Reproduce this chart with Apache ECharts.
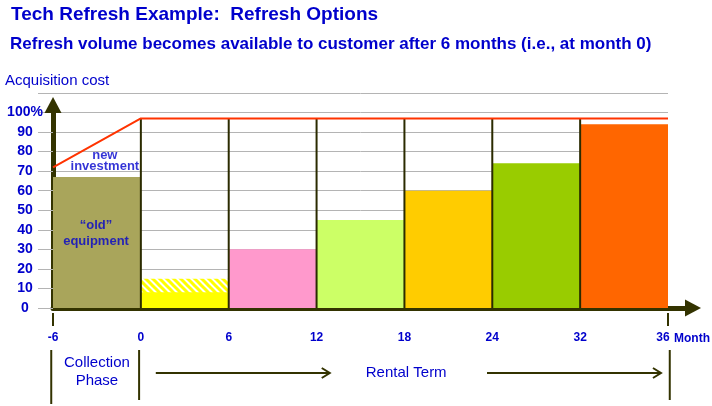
<!DOCTYPE html>
<html>
<head>
<meta charset="utf-8">
<script src="https://cdn.jsdelivr.net/npm/echarts@6/dist/echarts.min.js"></script>
</head>
<body style="margin:0; background:#fff">
<div id="chart" style="width:712px; height:406px"></div>
<script>
// tick labels under the time axis (equal spacing per period)
var monthLabels = ['-6', '0', '6', '12', '18', '24', '32', '36'];
// acquisition cost (% of full) per period
var barValues = [67, 8, 30, 45, 60, 74, 94];
var barColors = ['#A9A55B', '#FFFF00', '#FF99CC', '#CCFF66', '#FFCC00', '#99CC00', '#FF6600'];
// hatched "potential" volume on top of the month 0-6 bar
var hatchValues = [null, 15, null, null, null, null, null];
// red acquisition cost line
var costLine = [[0, 72], [1, 97], [7, 97]];
// period dividers
var dividerAt = [1, 2, 3, 4, 5, 6];
var dividerTop = 97;
var notes = [
    {text: 'new\ninvestment', x: 0.59, y: 75},
    {text: '\u201cold\u201d\nequipment', x: 0.49, y: 38}
];

var blue = '#0000CC';
var dark = '#333300';
var grey = '#B4B4B4';
var font = '"Liberation Sans", Arial, sans-serif';

// diagonal yellow stripes for the hatched part
function hatchPattern() {
    var s = 7;
    var c = document.createElement('canvas');
    c.width = s; c.height = s;
    var g = c.getContext('2d');
    g.fillStyle = '#fff';
    g.fillRect(0, 0, s, s);
    g.strokeStyle = '#FFFF00';
    g.lineWidth = 3;
    g.beginPath();
    g.moveTo(-1, -1); g.lineTo(s + 1, s + 1);
    g.moveTo(-1, s - 1); g.lineTo(1, s + 1);
    g.moveTo(s - 1, -1); g.lineTo(s + 1, 1);
    g.stroke();
    return {image: c, repeat: 'repeat'};
}

function barData(values) {
    var out = [];
    for (var i = 0; i < values.length; i++) {
        if (values[i] != null) out.push([i, values[i]]);
    }
    return out;
}

function periodRect(fillFn) {
    return function (params, api) {
        var i = api.value(0);
        var p0 = api.coord([i, api.value(1)]);
        var p1 = api.coord([i + 1, 0]);
        return {
            type: 'rect',
            shape: {x: p0[0], y: p0[1], width: p1[0] - p0[0], height: p1[1] - p0[1]},
            style: {fill: fillFn(i)}
        };
    };
}

var hatch = hatchPattern();

var chart = echarts.init(document.getElementById('chart'));

var option = {
    animation: false,
    backgroundColor: '#fff',
    textStyle: {fontFamily: font},
    title: [
        {text: 'Tech Refresh Example:  Refresh Options', left: 6, top: 0,
            textStyle: {color: blue, fontSize: 19, fontWeight: 'bold', fontFamily: font}},
        {text: 'Refresh volume becomes available to customer after 6 months (i.e., at month 0)', left: 5, top: 31,
            textStyle: {color: blue, fontSize: 17, fontWeight: 'bold', fontFamily: font}},
        {text: 'Acquisition cost', left: 0, top: 68,
            textStyle: {color: blue, fontSize: 15, fontWeight: 'normal', fontFamily: font}}
    ],
    grid: [
        {left: 53, right: 44, top: 93, bottom: 98},
        {left: 53, right: 44, top: 105, bottom: 98},
        {left: 53, right: 19, top: 93, bottom: 98}
    ],
    xAxis: [
        {
            gridIndex: 0, type: 'value', min: 0, max: 7, interval: 1,
            axisLine: {show: false}, axisTick: {show: false}, splitLine: {show: false},
            axisLabel: {
                margin: 24, color: blue, fontSize: 12, fontWeight: 'bold', fontFamily: font,
                formatter: function (v) {
                    var i = Math.round(v);
                    return i === monthLabels.length - 1 ? '{end|' + monthLabels[i] + '}' : monthLabels[i];
                },
                rich: {end: {color: blue, fontSize: 12, fontWeight: 'bold', fontFamily: font, padding: [0, 10, 0, 0]}}
            }
        },
        {gridIndex: 1, type: 'value', min: 0, max: 1, show: false},
        {
            gridIndex: 2, type: 'value', min: 0, max: 1,
            axisLine: {show: true, onZero: false, symbol: ['none', 'triangle'], symbolSize: [17, 16],
                lineStyle: {color: dark, width: 5}},
            axisTick: {show: false}, axisLabel: {show: false}, splitLine: {show: false}
        }
    ],
    yAxis: [
        {
            gridIndex: 0, type: 'value', min: 0, max: 110, interval: 10,
            axisLine: {show: false},
            axisTick: {show: true, length: 15, lineStyle: {color: grey}},
            splitLine: {lineStyle: {color: grey, width: 1}},
            axisLabel: {
                margin: 28, align: 'center', color: blue, fontSize: 14, fontWeight: 'bold', fontFamily: font,
                formatter: function (v) { return v === 100 ? '100%' : (v > 100 ? '' : String(v)); }
            }
        },
        {
            gridIndex: 1, type: 'value', min: 0, max: 1,
            axisLine: {show: true, onZero: false, symbol: ['none', 'triangle'], symbolSize: [17, 16],
                lineStyle: {color: dark, width: 5}},
            axisTick: {show: false}, axisLabel: {show: false}, splitLine: {show: false}
        },
        {gridIndex: 2, type: 'value', min: 0, max: 1, show: false}
    ],
    series: [
        {
            name: 'hatched', type: 'custom', xAxisIndex: 0, yAxisIndex: 0, z: 2,
            renderItem: periodRect(function () { return hatch; }),
            data: barData(hatchValues)
        },
        {
            name: 'cost', type: 'custom', xAxisIndex: 0, yAxisIndex: 0, z: 3,
            renderItem: periodRect(function (i) { return barColors[i]; }),
            data: barData(barValues)
        },
        {
            name: 'dividers', type: 'custom', xAxisIndex: 0, yAxisIndex: 0, z: 4,
            renderItem: function (params, api) {
                var a = api.coord([api.value(0), 0]);
                var b = api.coord([api.value(0), api.value(1)]);
                return {type: 'line', shape: {x1: a[0], y1: a[1], x2: b[0], y2: b[1]},
                    style: {stroke: '#2B2B00', lineWidth: 2}};
            },
            data: dividerAt.map(function (i) { return [i, dividerTop]; })
        },
        {
            name: 'acquisition', type: 'line', xAxisIndex: 0, yAxisIndex: 0, z: 5,
            showSymbol: false, symbol: 'none',
            lineStyle: {color: '#FF3300', width: 2},
            data: costLine
        },
        {
            name: 'notes', type: 'scatter', xAxisIndex: 0, yAxisIndex: 0, z: 6,
            symbolSize: 0, silent: true,
            data: notes.map(function (n, k) {
                return {
                    value: [n.x, n.y], name: n.text,
                    label: {show: true, position: 'inside', formatter: '{b}', color: blue,
                        fontSize: 13, fontWeight: 'bold', fontFamily: font, lineHeight: k === 0 ? 11 : 16}
                };
            })
        }
    ]
};

chart.setOption(option);

// bottom annotation: phase separators, arrows, phase names and the axis unit
function px(i) { return chart.convertToPixel({xAxisIndex: 0}, i); }
var base = chart.convertToPixel({yAxisIndex: 0}, 0);
var g = [];
[0, 7].forEach(function (i) {
    g.push({type: 'line', shape: {x1: px(i), y1: base + 5, x2: px(i), y2: base + 18},
        style: {stroke: dark, lineWidth: 2}});
});
[[-0.02, 96], [0.98, 92], [7.02, 92]].forEach(function (s) {
    g.push({type: 'line', shape: {x1: px(s[0]), y1: base + 42, x2: px(s[0]), y2: base + s[1]},
        style: {stroke: dark, lineWidth: 2}});
});
[[1.17, 3.15], [4.94, 6.92]].forEach(function (a) {
    var x1 = px(a[0]), x2 = px(a[1]), y = base + 65;
    g.push({type: 'line', shape: {x1: x1, y1: y, x2: x2, y2: y}, style: {stroke: dark, lineWidth: 2}});
    g.push({type: 'polyline', shape: {points: [[x2 - 8, y - 5], [x2, y], [x2 - 8, y + 5]]},
        style: {stroke: dark, lineWidth: 2, fill: null}});
});
g.push({type: 'text', x: px(0.5), y: base + 64,
    style: {text: 'Collection\nPhase', fill: blue, font: '15px ' + font, align: 'center', verticalAlign: 'middle', lineHeight: 18}});
g.push({type: 'text', x: px(4.02), y: base + 65,
    style: {text: 'Rental Term', fill: blue, font: '15px ' + font, align: 'center', verticalAlign: 'middle'}});
g.push({type: 'text', x: px(7) + 6, y: base + 31,
    style: {text: 'Month', fill: blue, font: 'bold 12px ' + font, align: 'left', verticalAlign: 'middle'}});

chart.setOption({graphic: g});
</script>
</body>
</html>
